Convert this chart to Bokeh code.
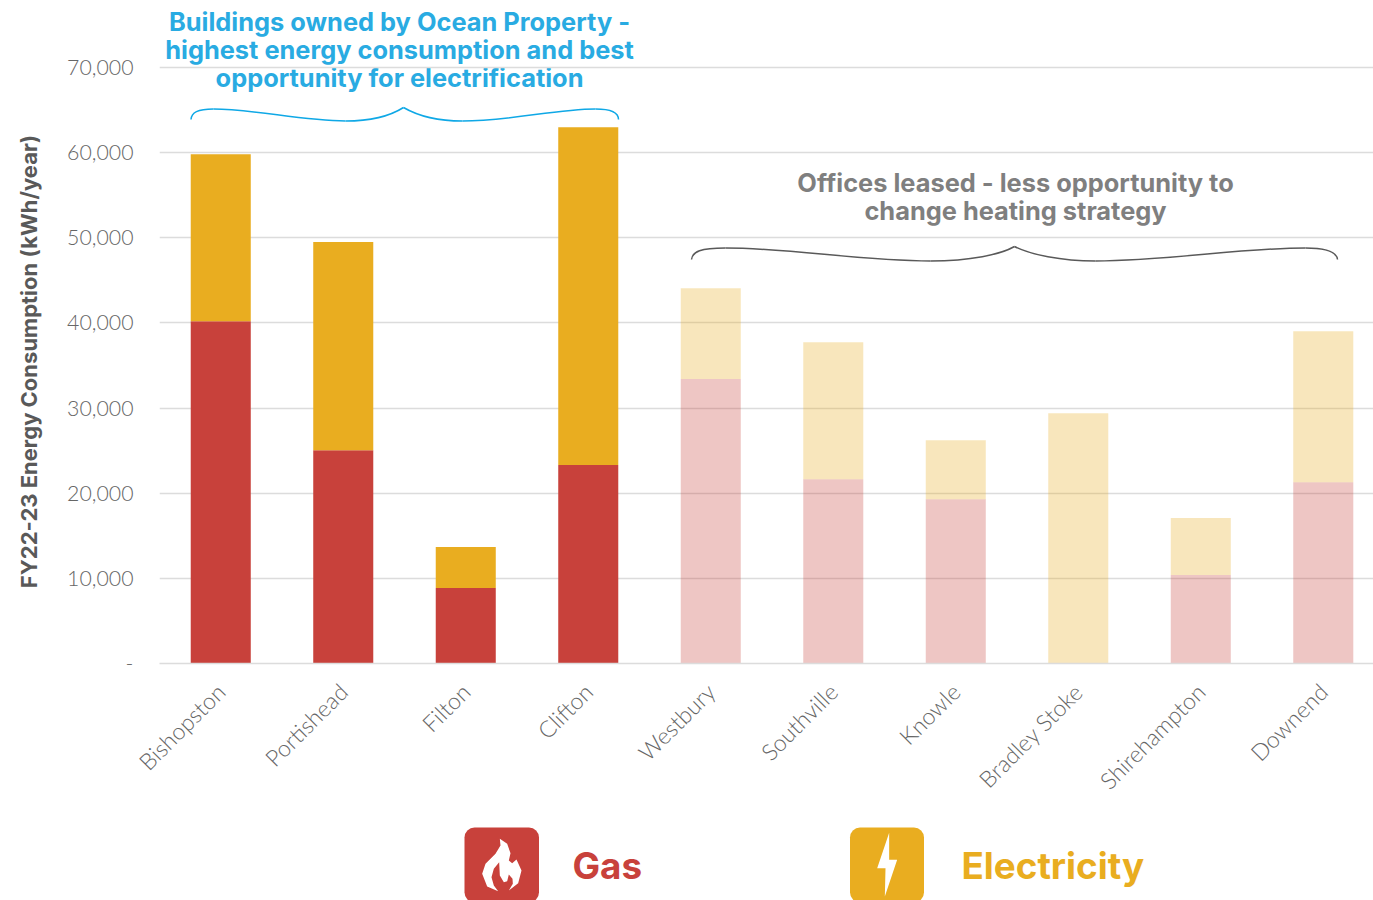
from bokeh.embed import file_html
from bokeh.layouts import column
from bokeh.models import ColumnDataSource, FixedTicker, Label, NumeralTickFormatter, Range1d
from bokeh.plotting import figure
from bokeh.resources import INLINE

# Annual consumption per site, kWh/year
sites = ["Bishopston", "Portishead", "Filton", "Clifton", "Westbury",
         "Southville", "Knowle", "Bradley Stoke", "Shirehampton", "Downend"]
gas = [40200, 25050, 8860, 23300, 33400, 21650, 19300, 0, 10390, 21300]
electricity = [19600, 24450, 4810, 39670, 10670, 16080, 6930, 29400, 6690, 17720]
owned_count = 4
y_ticks = [0, 10000, 20000, 30000, 40000, 50000, 60000, 70000]

RED = "#c8413b"
GOLD = "#e9ad20"
BLUE = "#29abe2"
BRACE_BLUE = "#0fa8e6"
GREY = "#7f7f7f"
HEAD_FONT = "Inter"
LIGHT_FONT = "Lato Light"
NOTE_SIZE = "25.4px"

W, LEFT = 1373, 159
H_HEAD = 92          # strip holding the blue note, overlapping the chart's top
CHART_TOP = 47       # window y at which the chart's canvas begins
FRAME_TOP, BOTTOM_Y = 59, 663
KEY_TOP = 810
H_MAIN = KEY_TOP - CHART_TOP
H_KEY = 900 - KEY_TOP


def strip(height, y_top, y_bottom):
    """Transparent strip whose data coordinates are window pixels."""
    s = figure(width=W, height=height, output_backend="svg", toolbar_location=None,
               x_range=Range1d(LEFT, W), y_range=Range1d(y_bottom, y_top),
               x_axis_location=None, y_axis_location=None,
               min_border_left=LEFT, min_border_right=0, min_border_top=0, min_border_bottom=0,
               outline_line_color=None, border_fill_color=None, background_fill_color=None)
    s.grid.visible = False
    return s


p = figure(width=W, height=H_MAIN, output_backend="svg", toolbar_location=None,
           x_range=Range1d(-0.5, 9.41),
           y_range=Range1d(0, 70000 * (BOTTOM_Y - FRAME_TOP) / 596),
           min_border_left=LEFT, min_border_right=0, min_border_top=FRAME_TOP - CHART_TOP,
           min_border_bottom=KEY_TOP - BOTTOM_Y, outline_line_color=None,
           background_fill_color=None, border_fill_color=None,
           margin=(CHART_TOP - H_HEAD, 0, 0, 0))


def px(x):
    return (x - 220.25) / 122.5


def py(y):
    return (BOTTOM_Y - y) / 596 * 70000


# stacked bars, gas at the bottom, leased offices faded
for lo, hi, alpha in [(0, owned_count, 1.0), (owned_count, len(sites), 0.3)]:
    idx = list(range(lo, hi))
    src = ColumnDataSource(dict(
        x=idx,
        gas=[gas[i] for i in idx],
        total=[gas[i] + electricity[i] for i in idx],
    ))
    p.vbar(x="x", width=0.49, bottom=0, top="gas", source=src,
           fill_color=RED, fill_alpha=alpha, line_color=None)
    p.vbar(x="x", width=0.49, bottom="gas", top="total", source=src,
           fill_color=GOLD, fill_alpha=alpha, line_color=None)

# axes
p.xgrid.visible = False
p.ygrid.grid_line_color = "#dcdcdc"
p.ygrid.grid_line_width = 1.5
p.ygrid.ticker = FixedTicker(ticks=y_ticks)

xa = p.xaxis[0]
xa.ticker = FixedTicker(ticks=list(range(len(sites))))
xa.major_label_overrides = {i: s for i, s in enumerate(sites)}
xa.major_label_orientation = 0.785
xa.major_label_text_font = LIGHT_FONT
xa.major_label_text_font_size = "23px"
xa.major_label_text_color = "#666666"
xa.major_label_standoff = 18
xa.axis_line_color = "#dcdcdc"
xa.axis_line_width = 1.5
xa.major_tick_line_color = None
xa.minor_tick_line_color = None

ya = p.yaxis[0]
ya.ticker = FixedTicker(ticks=y_ticks)
ya.formatter = NumeralTickFormatter(format="0,0")
ya.major_label_overrides = {0: "-"}
ya.major_label_text_font = LIGHT_FONT
ya.major_label_text_font_size = "21.3px"
ya.major_label_text_color = "#666666"
ya.major_label_standoff = 20
ya.axis_line_color = None
ya.major_tick_line_color = None
ya.minor_tick_line_color = None
ya.axis_label = "FY22-23 Energy Consumption (kWh/year)"
ya.axis_label_text_font = HEAD_FONT
ya.axis_label_text_font_style = "bold"
ya.axis_label_text_font_size = "22px"
ya.axis_label_text_color = "#595959"
ya.axis_label_standoff = 22


def brace(segments, color):
    p.bezier(x0=[px(s[0][0]) for s in segments], y0=[py(s[0][1]) for s in segments],
             cx0=[px(s[1][0]) for s in segments], cy0=[py(s[1][1]) for s in segments],
             cx1=[px(s[2][0]) for s in segments], cy1=[py(s[2][1]) for s in segments],
             x1=[px(s[3][0]) for s in segments], y1=[py(s[3][1]) for s in segments],
             line_color=color, line_width=1.5)


brace([
    ((190.5, 119), (191, 112), (197, 108.5), (213, 108.5)),
    ((213, 108.5), (255, 108.5), (300, 120.5), (345, 120.5)),
    ((345, 120.5), (372, 120.5), (392, 114), (403, 107)),
    ((403, 107), (415, 114), (435, 120.5), (462, 120.5)),
    ((462, 120.5), (510, 120.5), (555, 108.5), (595, 108.5)),
    ((595, 108.5), (610, 108.5), (618, 112), (618, 119)),
], BRACE_BLUE)
brace([
    ((691, 259), (692, 251), (700, 247.5), (725, 247.5)),
    ((725, 247.5), (790, 247.5), (860, 260.5), (930, 260.5)),
    ((930, 260.5), (970, 260.5), (1000, 254), (1014, 246)),
    ((1014, 246), (1030, 254), (1060, 260.5), (1095, 260.5)),
    ((1095, 260.5), (1165, 260.5), (1240, 247.5), (1305, 247.5)),
    ((1305, 247.5), (1325, 247.5), (1336, 251), (1337, 259)),
], "#595959")

# notes above each group of bars
head = strip(H_HEAD, 0, H_HEAD)
owned_note = ["Buildings owned by Ocean Property -",
              "highest energy consumption and best",
              "opportunity for electrification"]
leased_note = ["Offices leased - less opportunity to",
               "change heating strategy"]


def note_label(x, y, text, color):
    return Label(x=x, y=y, text=text, text_align="center", text_baseline="middle",
                 text_font=HEAD_FONT, text_font_style="bold", text_font_size=NOTE_SIZE,
                 text_color=color)


for k, line in enumerate(owned_note):
    head.add_layout(note_label(399, 21 + 28 * k, line, BLUE))
for k, line in enumerate(leased_note):
    p.add_layout(note_label(px(1015), py(182 + 28 * k), line, GREY))

# key strip underneath
key = strip(H_KEY, KEY_TOP, 900)
key.quad(left=[464, 849.5], right=[538.5, 923.5], top=[827, 827], bottom=[902, 902],
         fill_color=[RED, GOLD], line_color=None, border_radius=10)


def icon_outline(points):
    return [440 + x / 3 for x, _ in points], [810 + y / 3 for _, y in points]


flame = [(178, 85), (200, 100), (210, 128), (205, 150), (215, 158), (228, 147), (243, 180),
         (233, 218), (205, 240), (217, 220), (216, 205), (205, 192), (200, 212), (190, 215),
         (178, 195), (176, 155), (160, 175), (153, 200), (160, 225), (173, 242), (140, 228),
         (125, 190), (135, 160), (165, 130), (180, 105)]
bolt = [(1346, 67), (1346, 148), (1370, 148), (1333, 258), (1335, 173), (1310, 173)]
for shape in (flame, bolt):
    xs, ys = icon_outline(shape)
    key.patch(xs, ys, fill_color="white", line_color=None)

for text, x, color in [("Gas", 572, RED), ("Electricity", 961, GOLD)]:
    key.add_layout(Label(x=x, y=865, text=text, text_align="left", text_baseline="middle",
                         text_font=HEAD_FONT, text_font_style="bold",
                         text_font_size="36.8px", text_color=color))

page = column(head, p, key, spacing=0)
open("out.html", "w").write(file_html(page, INLINE))
